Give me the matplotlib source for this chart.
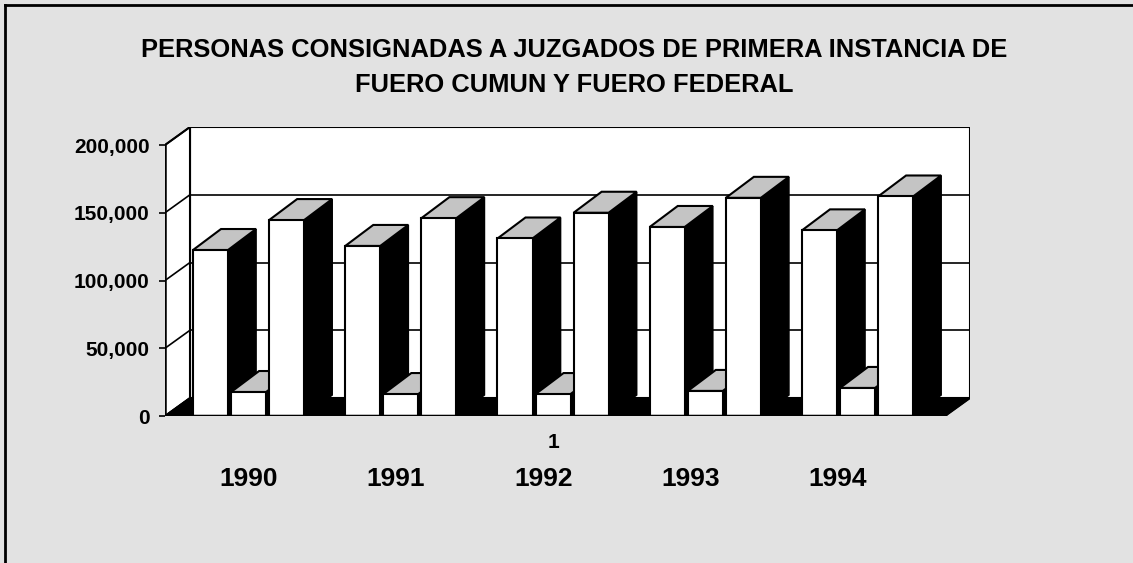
import numpy as np
import matplotlib.pyplot as plt
from matplotlib.patches import Polygon
from matplotlib.lines import Line2D

# datos (personas consignadas)
years = ["1990", "1991", "1992", "1993", "1994"]
fuero_comun = [122500, 125500, 131000, 139500, 137000]
fuero_federal = [17700, 16200, 16200, 18500, 20700]
total = [144600, 146000, 150000, 161000, 162000]
yticks = [0, 50000, 100000, 150000, 200000]

W, H = 1133, 563
fig = plt.figure(figsize=(W / 100, H / 100), dpi=100)
fig.patch.set_facecolor("#e2e2e2")

# ejes en pixeles: pared frontal izq 165, fondo 970, base 416, tope 127
ax = fig.add_axes([165 / W, (H - 416) / H, (970 - 165) / W, (416 - 127) / H])
ax.set_facecolor("none")
for s in ax.spines.values():
    s.set_visible(False)

px_u = 38.06          # pixeles por unidad x
px_k = 1.355 / 1000   # pixeles por persona
x0 = -1.196
x1 = x0 + (945 - 165) / px_u
ax.set_xlim(x0, x0 + (970 - 165) / px_u)
ax.set_ylim(0, 289 / px_k)

dxw, dyw = 25 / px_u, 18 / px_k   # profundidad de paredes
dxb, dyb = 28 / px_u, 21 / px_k   # profundidad de barras
top = yticks[-1]

# pared del fondo con lineas de division
ax.add_patch(Polygon([(x0 + dxw, dyw), (x1 + dxw, dyw), (x1 + dxw, top + dyw),
                      (x0 + dxw, top + dyw)], closed=True, fc="white",
                     ec="black", lw=1.5, zorder=1))
for v in yticks[1:-1]:
    ax.plot([x0 + dxw, x1 + dxw], [v + dyw, v + dyw], color="black", lw=1.2, zorder=1.5)

# pared izquierda
ax.add_patch(Polygon([(x0, 0), (x0 + dxw, dyw), (x0 + dxw, top + dyw), (x0, top)],
                     closed=True, fc="white", ec="black", lw=1.5, zorder=1))
for v in yticks:
    ax.plot([x0, x0 + dxw], [v, v + dyw], color="black", lw=1.2, zorder=1.5)

# piso negro
ax.add_patch(Polygon([(x0, 0), (x1, 0), (x1 + dxw, dyw), (x0 + dxw, dyw)],
                     closed=True, fc="black", ec="black", lw=1, zorder=2))

# barras 3D: cara frontal con ax.bar, lado negro y tapa gris
n = len(years)
groups = np.arange(n) * 4
width = 0.92
z = 3
for i in range(n):
    for j, serie in enumerate([fuero_comun, fuero_federal, total]):
        xc = groups[i] + j
        h = serie[i]
        l, r = xc - width / 2, xc + width / 2
        ax.add_patch(Polygon([(r, 0), (r + dxb, dyb), (r + dxb, h + dyb), (r, h)],
                             closed=True, fc="black", ec="black", lw=1.2, zorder=z))
        ax.add_patch(Polygon([(l, h), (l + dxb, h + dyb), (r + dxb, h + dyb), (r, h)],
                             closed=True, fc="#c4c4c4", ec="black", lw=1.5, zorder=z + 0.1))
        bars = ax.bar([xc], [h], width=width, color="white", edgecolor="black",
                      linewidth=1.5)
        bars[0].set_zorder(z + 0.2)
        z += 1

# ejes frontales
ax.plot([x0, x0], [0, top], color="black", lw=1.8, zorder=z)
ax.plot([x0, x1], [0, 0], color="black", lw=2.5, zorder=z)
ax.plot([x1, x1 + dxw], [0, dyw], color="black", lw=1.5, zorder=z)

ax.set_yticks(yticks)
ax.set_yticklabels([f"{v:,}" for v in yticks], fontsize=15, fontweight="bold",
                   family="Liberation Sans")
ax.tick_params(axis="y", length=4, width=1.2, pad=7)

# etiquetas de años (se corren a la izquierda en el original)
label_x = groups + 1 - 0.13 * np.arange(n)
ax.set_xticks(label_x)
ax.set_xticklabels(years, fontsize=19, fontweight="bold", family="Liberation Sans")
ax.tick_params(axis="x", length=0, pad=37)
ax.text(groups[2] + 1, -27 / px_k, "1", ha="center", va="center",
        fontsize=15, fontweight="bold", family="Liberation Sans", clip_on=False)

fig.text(574 / W, 1 - 50 / H, "PERSONAS CONSIGNADAS A JUZGADOS DE PRIMERA INSTANCIA DE",
         ha="center", va="center", fontsize=18.4, fontweight="bold", family="Liberation Sans")
fig.text(574 / W, 1 - 85 / H, "FUERO CUMUN Y FUERO FEDERAL",
         ha="center", va="center", fontsize=18.4, fontweight="bold", family="Liberation Sans")

# marco (solo visible arriba e izquierda)
fig.add_artist(Line2D([5 / W, 1], [1 - 5 / H, 1 - 5 / H], color="black", lw=2))
fig.add_artist(Line2D([5 / W, 5 / W], [0, 1 - 5 / H], color="black", lw=2))

fig.savefig("out.png", dpi=100, facecolor=fig.get_facecolor())
